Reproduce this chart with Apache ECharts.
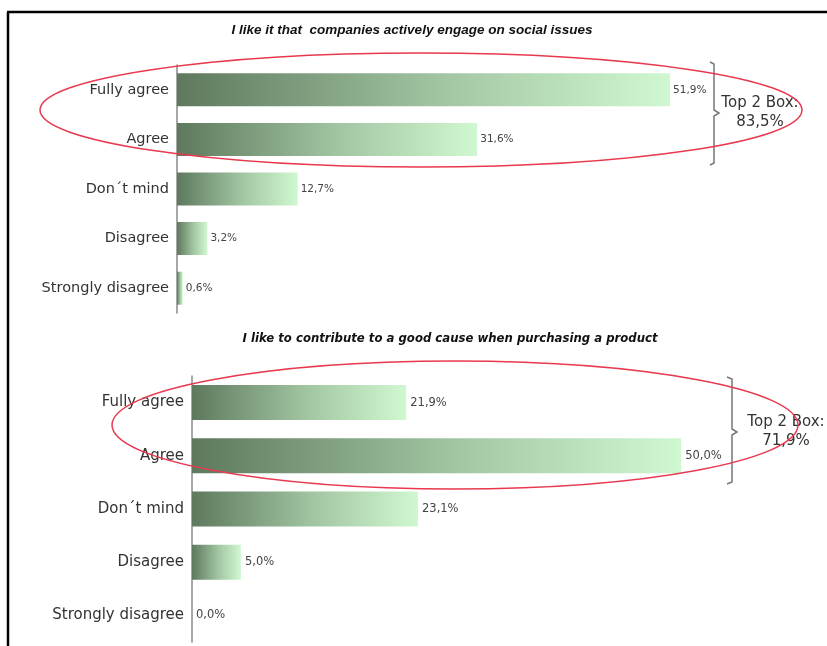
<!DOCTYPE html>
<html>
<head>
<meta charset="utf-8">
<script src="https://cdn.jsdelivr.net/npm/echarts@6/dist/echarts.min.js"></script>
<style>html,body{margin:0;padding:0;background:#fff;}#c{width:827px;height:646px;}</style>
</head>
<body>
<div id="c"></div>
<script>
const categories = ['Fully agree', 'Agree', 'Don\u00b4t mind', 'Disagree', 'Strongly disagree'];
const valuesSocial = [51.9, 31.6, 12.7, 3.2, 0.6];
const valuesCause = [21.9, 50.0, 23.1, 5.0, 0.0];
const titleSocial = 'I like it that  companies actively engage on social issues';
const titleCause = 'I like to contribute to a good cause when purchasing a product';
const top2Social = 'Top 2 Box:\n83,5%';
const top2Cause = 'Top 2 Box:\n71,9%';

const chart = echarts.init(document.getElementById('c'));
const grad = () => new echarts.graphic.LinearGradient(0, 0, 1, 0, [
  {offset: 0, color: '#5e795e'},
  {offset: 0.55, color: '#a3c7a3'},
  {offset: 1, color: '#d0f8d0'}
]);
const fmt = p => p.value.toFixed(1).replace('.', ',') + '%';
const catAxis = (gi, fs) => ({
  type: 'category', gridIndex: gi, data: categories, inverse: true,
  axisLine: {show: true, lineStyle: {color: '#8a8a8a', width: 1.5}},
  axisTick: {show: false},
  axisLabel: {color: '#333', fontFamily: 'DejaVu Sans', fontSize: fs, margin: 8}
});
const valAxis = gi => ({
  type: 'value', gridIndex: gi, min: 0, max: 60, show: false, splitLine: {show: false}
});
const red = '#e8394f';
chart.setOption({
  animation: false,
  grid: [
    {left: 177, top: 65, width: 570, height: 248},
    {left: 192, top: 376, width: 587, height: 266}
  ],
  xAxis: [valAxis(0), valAxis(1)],
  yAxis: [catAxis(0, 14.5), catAxis(1, 15)],
  series: [
    {type: 'bar', xAxisIndex: 0, yAxisIndex: 0, data: valuesSocial, barWidth: 33,
     itemStyle: {color: grad()},
     label: {show: true, position: 'right', distance: 3, formatter: fmt, color: '#444', fontFamily: 'DejaVu Sans', fontSize: 10.5}},
    {type: 'bar', xAxisIndex: 1, yAxisIndex: 1, data: valuesCause, barWidth: 35,
     itemStyle: {color: grad()},
     label: {show: true, position: 'right', distance: 4, formatter: fmt, color: '#444', fontFamily: 'DejaVu Sans', fontSize: 11.5}}
  ],
  graphic: [
    {type: 'line', shape: {x1: 7, y1: 12, x2: 827, y2: 12}, style: {stroke: '#000', lineWidth: 2.5}},
    {type: 'line', shape: {x1: 8, y1: 12, x2: 8, y2: 646}, style: {stroke: '#000', lineWidth: 2.5}},
    {type: 'text', style: {text: titleSocial, x: 412, y: 30, align: 'center', verticalAlign: 'middle', font: 'italic bold 13.5px "Liberation Sans"', fill: '#111'}},
    {type: 'text', style: {text: titleCause, x: 450, y: 339, align: 'center', verticalAlign: 'middle', font: 'italic bold 11.7px "DejaVu Sans"', fill: '#111'}},
    {type: 'polyline', z: 50, shape: {points: [[710, 62], [714, 64], [714, 110], [719, 113], [714, 116], [714, 163], [710, 165]]}, style: {stroke: '#777', lineWidth: 1.5, fill: null}},
    {type: 'polyline', z: 50, shape: {points: [[727, 377], [732, 379], [732, 429], [737, 432], [732, 435], [732, 482], [727, 484]]}, style: {stroke: '#777', lineWidth: 1.5, fill: null}},
    {type: 'text', z: 50, style: {text: top2Social, x: 760, y: 113, align: 'center', verticalAlign: 'middle', font: '15px "DejaVu Sans"', lineHeight: 19, fill: '#333'}},
    {type: 'text', z: 50, style: {text: top2Cause, x: 786, y: 432, align: 'center', verticalAlign: 'middle', font: '15px "DejaVu Sans"', lineHeight: 19, fill: '#333'}},
    {type: 'ellipse', z: 60, shape: {cx: 421, cy: 110, rx: 381, ry: 57}, style: {fill: null, stroke: red, lineWidth: 1.5}},
    {type: 'ellipse', z: 60, shape: {cx: 455, cy: 425, rx: 343, ry: 64}, style: {fill: null, stroke: red, lineWidth: 1.5}}
  ]
});
</script>
</body>
</html>
